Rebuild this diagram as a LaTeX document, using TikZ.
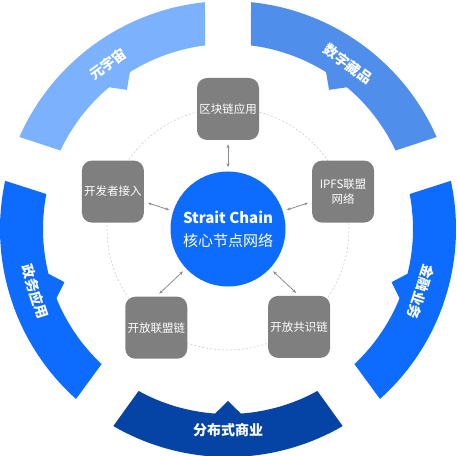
\documentclass[tikz,border=0pt]{standalone}
\usepackage{fontspec}
\setmainfont{Noto Sans CJK SC}
\usepackage{xcolor}
\definecolor{ringsky}{RGB}{124,178,253}
\definecolor{ringmid}{RGB}{80,142,236}
\definecolor{ringblue}{RGB}{13,107,254}
\definecolor{ringnavy}{RGB}{5,68,165}
\definecolor{boxgray}{RGB}{127,127,127}
\definecolor{linkgray}{RGB}{140,140,140}
\definecolor{guidegray}{RGB}{205,205,205}
\usetikzlibrary{arrows.meta}
\tikzset{
  service/.style ={rectangle,rounded corners=10pt,fill=boxgray,text=white,
                   align=center,minimum width=62pt,minimum height=62pt,inner sep=1pt,
                   font=\fontsize{11.5}{15}\selectfont},
  core/.style    ={circle,fill=ringblue,text=white,align=center,minimum size=115pt,
                   inner sep=0pt,font=\fontsize{15}{23}\selectfont},
  seglabel/.style={text=white,font=\fontsize{14}{16}\selectfont\bfseries},
  link/.style    ={{Stealth[length=4pt,width=3pt]}-{Stealth[length=4pt,width=3pt]},
                   line width=0.8pt,draw=linkgray,shorten <=4pt,shorten >=4pt},
}

\begin{document}
\begin{tikzpicture}[x=1pt,y=1pt]
  \useasboundingbox (-228,-226) rectangle (229,229);
  % outer ring: five sectors, each with a small pointer on its inner edge
  \fill[ringmid] (23.8:228) arc[start angle=23.8,end angle=84.2,radius=228pt]
    -- (82.9:185) arc[start angle=82.9,end angle=58,radius=185pt]
    -- (54:172) -- (50:185) arc[start angle=50,end angle=25.1,radius=185pt] -- cycle;
  \fill[ringsky] (95.8:228) arc[start angle=95.8,end angle=156.2,radius=228pt]
    -- (154.9:185) arc[start angle=154.9,end angle=130,radius=185pt]
    -- (126:172) -- (122:185) arc[start angle=122,end angle=97.1,radius=185pt] -- cycle;
  \fill[ringblue] (167.8:228) arc[start angle=167.8,end angle=228.2,radius=228pt]
    -- (226.9:185) arc[start angle=226.9,end angle=202,radius=185pt]
    -- (198:172) -- (194:185) arc[start angle=194,end angle=169.1,radius=185pt] -- cycle;
  \fill[ringnavy] (239.8:228) arc[start angle=239.8,end angle=300.2,radius=228pt]
    -- (298.9:185) arc[start angle=298.9,end angle=274,radius=185pt]
    -- (270:172) -- (266:185) arc[start angle=266,end angle=241.1,radius=185pt] -- cycle;
  \fill[ringblue] (311.8:228) arc[start angle=311.8,end angle=372.2,radius=228pt]
    -- (370.9:185) arc[start angle=370.9,end angle=346,radius=185pt]
    -- (342:172) -- (338:185) arc[start angle=338,end angle=313.1,radius=185pt] -- cycle;
  % sector labels
  \node[seglabel,rotate=-36] (collect) at (54:204) {数字藏品};
  \node[seglabel,rotate=36] (meta) at (126:204) {元宇宙};
  \node[seglabel,rotate=-72] (gov) at (198:203) {政务应用};
  \node[seglabel] (biz) at (270:201) {分布式商业};
  \node[seglabel,rotate=-108] (fin) at (342:203) {金融业务};
  % guide circle through the service boxes
  \draw[guidegray,dash pattern=on 2pt off 2pt,line width=0.6pt] (0,0) circle[radius=121pt];
  % core network and services
  \node[core] (core) at (0,0) {{\bfseries Strait Chain}\\核心节点网络};
  \node[service] (chainapp) at (90:120) {区块链应用};
  \node[service] (devin) at (162:121) {开发者接入};
  \node[service] (ipfs) at (18:121) {IPFS联盟\\网络};
  \node[service] (openally) at (234:122) {开放联盟链};
  \node[service] (openpow) at (306:121) {开放共识链};
  % two-way links from the core
  \draw[link] (core) -- (chainapp);
  \draw[link] (core) -- (devin);
  \draw[link] (core) -- (ipfs);
  \draw[link] (core) -- (openally.north);
  \draw[link] (core) -- (openpow.north);
\end{tikzpicture}
\end{document}
